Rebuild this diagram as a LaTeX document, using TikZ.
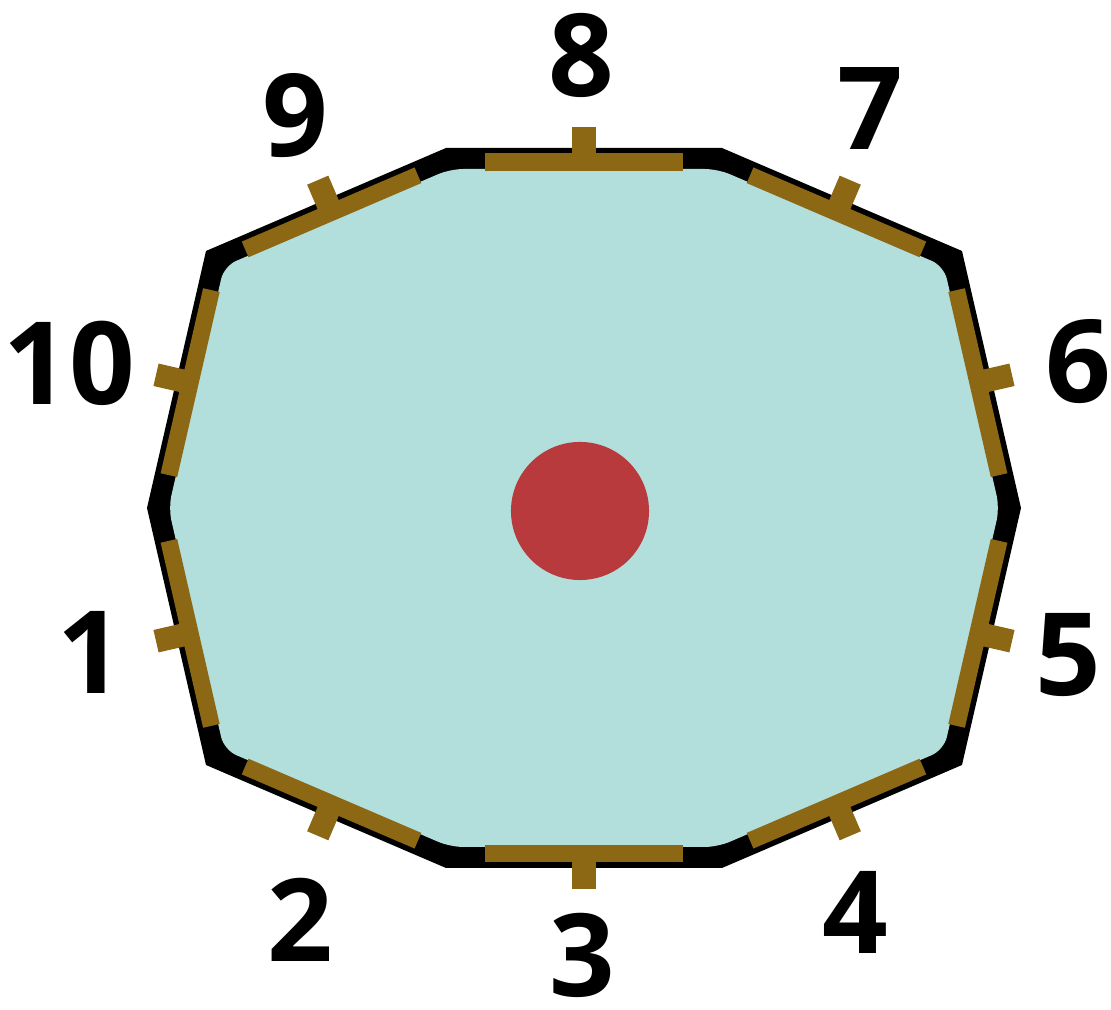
\documentclass[tikz,border=0pt]{standalone}
\usepackage{fontspec}
\newfontfamily\lblfont{Open Sans}
\usetikzlibrary{calc}
\definecolor{cellfill}{RGB}{178,223,220}
\definecolor{rim}{RGB}{0,0,0}
\definecolor{strip}{RGB}{140,103,20}
\definecolor{core}{RGB}{185,58,60}
\tikzset{
  striplen/.style={draw=strip, line width=0.17cm, line cap=butt},
  tickmark/.style={draw=strip, line width=0.23cm, line cap=butt},
  lbl/.style={inner sep=0pt, font=\lblfont\bfseries\fontsize{32.7}{36}\selectfont},
}
\begin{document}
\begin{tikzpicture}[x={(0.01cm,0)}, y={(0,-0.01cm)}]
\useasboundingbox (0,0) rectangle (1111,1010);
% outer vertices
\coordinate (V0) at (147,508);
\coordinate (V1) at (206,251);
\coordinate (V2) at (446,148);
\coordinate (V3) at (722,148);
\coordinate (V4) at (962,251);
\coordinate (V5) at (1021,508);
\coordinate (V6) at (962,765);
\coordinate (V7) at (722,868);
\coordinate (V8) at (446,868);
\coordinate (V9) at (206,765);
% black rim
\fill[rim] (V0) -- (V1) -- (V2) -- (V3) -- (V4) -- (V5) -- (V6) -- (V7) -- (V8) -- (V9) -- cycle;
% inner fill
\fill[cellfill, rounded corners=0.13cm] (168.5,508) -- (224.1,266.1) -- (450.3,169) -- (717.7,169) -- (943.9,266.1) -- (999.5,508) -- (943.9,749.9) -- (717.7,847) -- (450.3,847) -- (224.1,749.9) -- cycle;
% strips and ticks
\foreach \a/\b in {V0/V1,V1/V2,V2/V3,V3/V4,V4/V5,V5/V6,V6/V7,V7/V8,V8/V9,V9/V0}{
  \coordinate (p1) at ($(\a)!0.14!(\b)$);
  \coordinate (p2) at ($(\a)!0.86!(\b)$);
  \coordinate (pm) at ($(\a)!0.5!(\b)$);
  \coordinate (q1) at ($(p1)!0.14cm!-90:(\b)$);
  \coordinate (q2) at ($(p2)!0.14cm!90:(\a)$);
  \coordinate (qi) at ($(pm)!0.14cm!-90:(\b)$);
  \coordinate (qo) at ($(pm)!0.21cm!90:(\b)$);
  \draw[striplen] (q1) -- (q2);
  \draw[tickmark] (qi) -- (qo);
}
% nucleus
\fill[core] (580,511) circle (0.69cm);
% labels
\node[lbl] (n1) at (90,652) {1};
\node[lbl] (n2) at (300,920) {2};
\node[lbl] (n3) at (582,955) {3};
\node[lbl] (n4) at (855,912) {4};
\node[lbl] (n5) at (1068,655) {5};
\node[lbl] (n6) at (1078,362) {6};
\node[lbl] (n7) at (870,109) {7};
\node[lbl] (n8) at (581,55) {8};
\node[lbl] (n9) at (295,116) {9};
\node[lbl] (n10) at (69,363) {10};
\end{tikzpicture}
\end{document}
